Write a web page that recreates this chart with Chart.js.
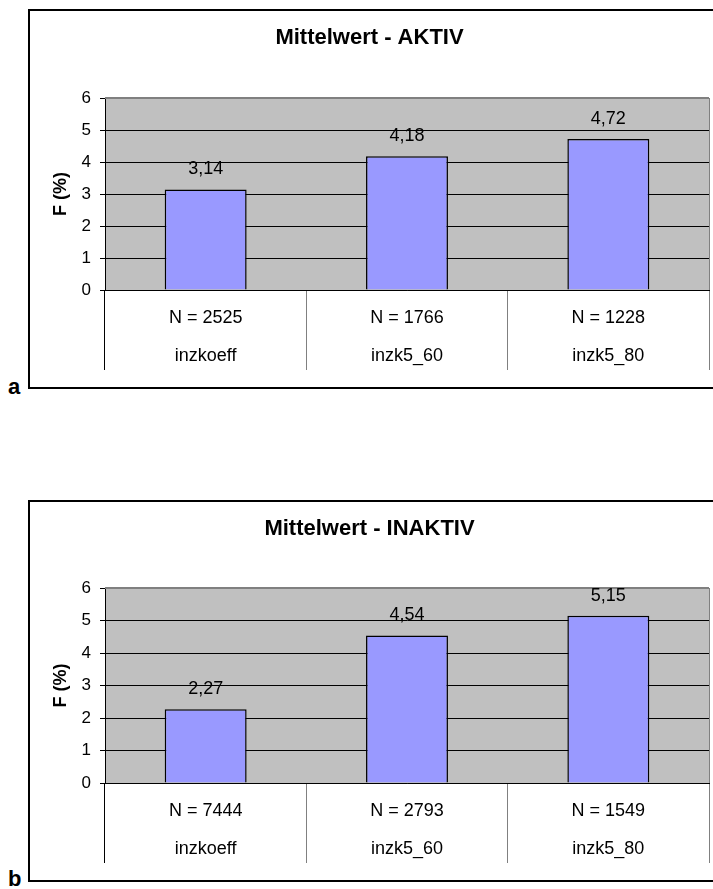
<!DOCTYPE html>
<html><head><meta charset="utf-8">
<script src="https://cdn.jsdelivr.net/npm/chart.js@4/dist/chart.umd.min.js"></script>
<style>
html,body{margin:0;padding:0;background:#fff;overflow:hidden;width:713px;height:889px;}
.frame{position:absolute;left:28px;width:692px;border:2px solid #000;}
#fa{top:9px;height:376px;}
#fb{top:500px;height:378px;}
canvas{display:block;}
.tag{position:absolute;left:8px;font:bold 22px "Liberation Sans",Arial,sans-serif;line-height:22px;color:#000;}
</style></head>
<body>
<div class="frame" id="fa"><canvas id="ca" width="692" height="376"></canvas></div>
<div class="frame" id="fb"><canvas id="cb" width="692" height="378"></canvas></div>
<div class="tag" style="top:376px">a</div>
<div class="tag" style="top:868px">b</div>
<script>
const categories = ['inzkoeff', 'inzk5_60', 'inzk5_80'];
const nAktiv = [2525, 1766, 1228];
const meanAktiv = [3.14, 4.18, 4.72];
const nInaktiv = [7444, 2793, 1549];
const meanInaktiv = [2.27, 4.54, 5.15];
const yTicks = [0, 1, 2, 3, 4, 5, 6];
const titleAktiv = 'Mittelwert - AKTIV';
const titleInaktiv = 'Mittelwert - INAKTIV';
const yTitle = 'F (%)';

const FONT = '"Liberation Sans", Arial, sans-serif';

const plotFrame = {
  id: 'plotFrame',
  beforeDraw(chart) {
    const {ctx, chartArea: a} = chart;
    ctx.save();
    ctx.fillStyle = '#C0C0C0';
    ctx.fillRect(a.left, a.top, a.width, a.height);
    ctx.restore();
  },
  beforeDatasetsDraw(chart) {
    const {ctx, chartArea: a} = chart;
    ctx.save();
    ctx.strokeStyle = '#808080';
    ctx.lineWidth = 2;
    ctx.beginPath();
    ctx.moveTo(a.left, a.top);
    ctx.lineTo(a.right, a.top);
    ctx.stroke();
    ctx.lineWidth = 1;
    ctx.beginPath();
    ctx.moveTo(Math.round(a.right) + 0.5, a.top);
    ctx.lineTo(Math.round(a.right) + 0.5, a.bottom);
    ctx.stroke();
    ctx.restore();
  }
};

const valueLabels = {
  id: 'valueLabels',
  afterDatasetsDraw(chart) {
    const {ctx} = chart;
    const meta = chart.getDatasetMeta(0);
    const data = chart.data.datasets[0].data;
    ctx.save();
    ctx.font = '18px ' + FONT;
    ctx.fillStyle = '#000';
    ctx.textAlign = 'center';
    ctx.textBaseline = 'middle';
    meta.data.forEach((bar, i) => {
      ctx.fillText(data[i].toFixed(2).replace('.', ','), bar.x, bar.y - 20);
    });
    ctx.restore();
  }
};

function makeChart(id, title, ns, means, areaTop, axisH) {
  const labels = categories.map((c, i) => ['N = ' + ns[i], c]);
  return new Chart(document.getElementById(id), {
    type: 'bar',
    data: {
      labels: labels,
      datasets: [{
        data: means,
        backgroundColor: '#9999FF',
        borderColor: '#000',
        borderWidth: 1.5,
        barPercentage: 0.407,
        categoryPercentage: 1
      }]
    },
    options: {
      responsive: false,
      animation: false,
      devicePixelRatio: 1,
      layout: {padding: {left: 0, right: 13, top: 0, bottom: 0}},
      plugins: {
        legend: {display: false},
        tooltip: {enabled: false},
        title: {
          display: true,
          text: title,
          color: '#000',
          font: {family: FONT, size: 22, weight: 'bold', lineHeight: 1.2},
          padding: {top: 14, bottom: areaTop - 14 - 26.4}
        }
      },
      scales: {
        x: {
          afterFit: s => { s.height = axisH; },
          grid: {
            offset: true,
            drawOnChartArea: false,
            drawTicks: true,
            tickLength: 80,
            tickWidth: 1,
            tickColor: c => c.index === 0 ? '#000' : '#808080'
          },
          border: {display: true, color: '#000', width: 1},
          ticks: {
            color: '#000',
            font: {family: FONT, size: 18, lineHeight: 38 / 18},
            padding: -71,
            maxRotation: 0,
            autoSkip: false
          }
        },
        y: {
          min: 0,
          max: 6,
          afterFit: s => { s.width = 75; },
          afterBuildTicks: s => { s.ticks = yTicks.map(v => ({value: v})); },
          grid: {
            color: c => (c.tick && c.tick.value === 6) ? 'rgba(0,0,0,0)' : '#000',
            lineWidth: 1,
            drawTicks: true,
            tickLength: 5,
            tickColor: '#000'
          },
          border: {display: true, color: '#000', width: 1},
          ticks: {
            color: '#000',
            font: {family: FONT, size: 17},
            padding: 9
          },
          title: {
            display: true,
            text: yTitle,
            color: '#000',
            font: {family: FONT, size: 18, weight: 'bold', lineHeight: 1.2},
            padding: {top: 20, bottom: 0}
          }
        }
      }
    },
    plugins: [plotFrame, valueLabels]
  });
}

makeChart('ca', titleAktiv, nAktiv, meanAktiv, 87, 97);
makeChart('cb', titleInaktiv, nInaktiv, meanInaktiv, 86, 97);
</script>
</body></html>
